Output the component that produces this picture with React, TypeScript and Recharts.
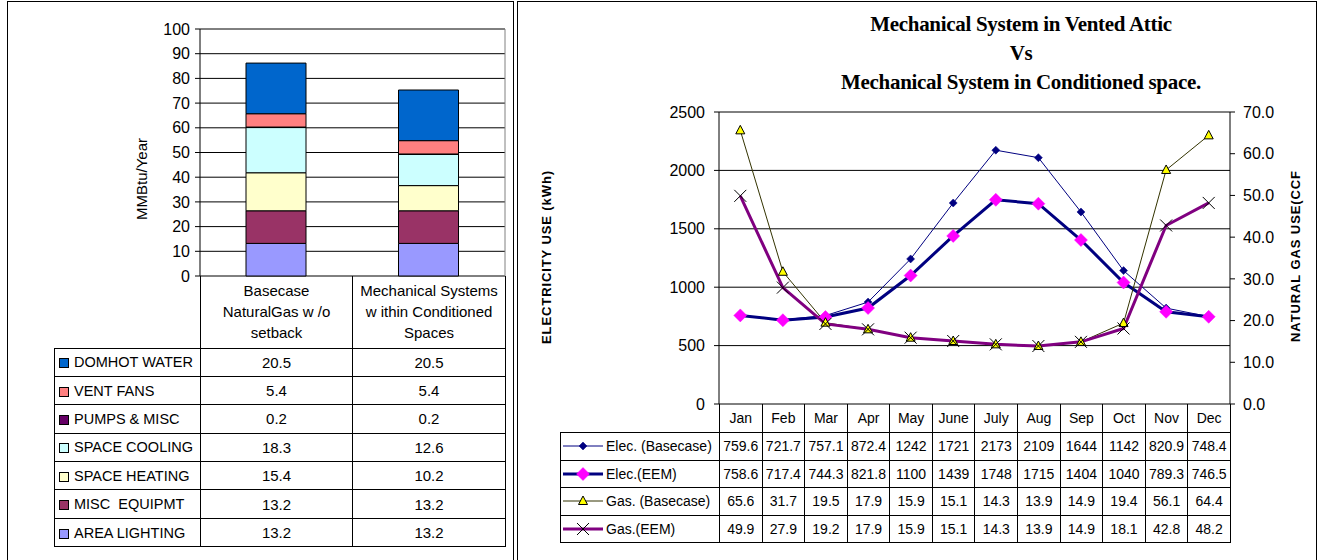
import React from "react";
import {
  BarChart,
  Bar,
  ComposedChart,
  Line,
  XAxis,
  YAxis,
  CartesianGrid,
  ReferenceLine,
} from "recharts";

// ---- annual end use (MMBtu/Year), table order top to bottom ----
const endUses = [
  "DOMHOT WATER",
  "VENT FANS",
  "PUMPS & MISC",
  "SPACE COOLING",
  "SPACE HEATING",
  "MISC  EQUIPMT",
  "AREA LIGHTING",
];
const endUseColors = ["#0066CC", "#FF8080", "#660066", "#CCFFFF", "#FFFFCC", "#993366", "#9999FF"];
const caseLabels = [
  ["Basecase", "NaturalGas w /o", "setback"],
  ["Mechanical Systems", "w ithin Conditioned", "Spaces"],
];
const basecaseUse = [20.5, 5.4, 0.2, 18.3, 15.4, 13.2, 13.2];
const conditionedUse = [20.5, 5.4, 0.2, 12.6, 10.2, 13.2, 13.2];
const useTicks = [0, 10, 20, 30, 40, 50, 60, 70, 80, 90, 100];

// ---- monthly electricity (kWh) and gas (CCF) ----
const months = ["Jan", "Feb", "Mar", "Apr", "May", "June", "July", "Aug", "Sep", "Oct", "Nov", "Dec"];
const elecBase = [759.6, 721.7, 757.1, 872.4, 1242, 1721, 2173, 2109, 1644, 1142, 820.9, 748.4];
const elecEem = [758.6, 717.4, 744.3, 821.8, 1100, 1439, 1748, 1715, 1404, 1040, 789.3, 746.5];
const gasBase = [65.6, 31.7, 19.5, 17.9, 15.9, 15.1, 14.3, 13.9, 14.9, 19.4, 56.1, 64.4];
const gasEem = [49.9, 27.9, 19.2, 17.9, 15.9, 15.1, 14.3, 13.9, 14.9, 18.1, 42.8, 48.2];
const elecTicks = [0, 500, 1000, 1500, 2000, 2500];
const gasTicks = [0, 10, 20, 30, 40, 50, 60, 70];

const sans = '"Liberation Sans", Arial, sans-serif';
const serif = '"Liberation Serif", "Times New Roman", serif';
const cases = [basecaseUse, conditionedUse];

const barData = caseLabels.map((lines, i) => {
  const row: Record<string, string | number> = { name: lines.join(" ") };
  endUses.forEach((_, j) => {
    row[`u${j}`] = cases[i][j];
  });
  return row;
});

const lineData = months.map((m, i) => ({
  month: m,
  elecBase: elecBase[i],
  elecEem: elecEem[i],
  gasBase: gasBase[i],
  gasEem: gasEem[i],
}));

// ---- markers ----
const Diamond = ({ cx, cy, r, fill }: { cx: number; cy: number; r: number; fill: string }) => (
  <polygon
    points={`${cx},${cy - r} ${cx + r},${cy} ${cx},${cy + r} ${cx - r},${cy}`}
    fill={fill}
    stroke={fill}
    strokeWidth={0.5}
  />
);

const Triangle = ({ cx, cy }: { cx: number; cy: number }) => (
  <polygon
    points={`${cx},${cy - 5} ${cx + 4.5},${cy + 3.5} ${cx - 4.5},${cy + 3.5}`}
    fill="#FFFF00"
    stroke="#000"
    strokeWidth={1}
  />
);

const Cross = ({ cx, cy }: { cx: number; cy: number }) => (
  <g stroke="#000" strokeWidth={1}>
    <line x1={cx - 6} y1={cy - 6} x2={cx + 6} y2={cy + 6} />
    <line x1={cx - 6} y1={cy + 6} x2={cx + 6} y2={cy - 6} />
  </g>
);

type Marker = (cx: number, cy: number) => React.ReactElement;

const lineSeries: {
  key: string;
  label: string;
  values: number[];
  axis: string;
  stroke: string;
  width: number;
  marker: Marker;
}[] = [
  {
    key: "elecBase",
    label: "Elec. (Basecase)",
    values: elecBase,
    axis: "elec",
    stroke: "#000080",
    width: 1,
    marker: (cx, cy) => <Diamond cx={cx} cy={cy} r={4} fill="#000080" />,
  },
  {
    key: "elecEem",
    label: "Elec.(EEM)",
    values: elecEem,
    axis: "elec",
    stroke: "#000080",
    width: 3,
    marker: (cx, cy) => <Diamond cx={cx} cy={cy} r={6.5} fill="#FF00FF" />,
  },
  {
    key: "gasBase",
    label: "Gas. (Basecase)",
    values: gasBase,
    axis: "gas",
    stroke: "#333300",
    width: 1,
    marker: (cx, cy) => <Triangle cx={cx} cy={cy} />,
  },
  {
    key: "gasEem",
    label: "Gas.(EEM)",
    values: gasEem,
    axis: "gas",
    stroke: "#800080",
    width: 3,
    marker: (cx, cy) => <Cross cx={cx} cy={cy} />,
  },
];

const cell: React.CSSProperties = {
  border: "1px solid #000",
  padding: 0,
  textAlign: "center",
  verticalAlign: "middle",
  whiteSpace: "nowrap",
  overflow: "hidden",
};

const rotated = (cx: number, cy: number, extra: React.CSSProperties): React.CSSProperties => ({
  position: "absolute",
  left: cx,
  top: cy,
  transform: "translate(-50%, -50%) rotate(-90deg)",
  whiteSpace: "nowrap",
  ...extra,
});

function EndUseChart() {
  return (
    <>
      <div style={{ position: "absolute", left: 0, top: 0 }}>
        <BarChart
          width={520}
          height={292}
          data={barData}
          margin={{ top: 29, right: 15, bottom: 16, left: 0 }}
        >
          <CartesianGrid vertical={false} stroke="#000" />
          <CartesianGrid
            horizontal={false}
            stroke="#808080"
            verticalCoordinatesGenerator={({ offset }: any) => [offset.left + offset.width]}
          />
          <XAxis dataKey="name" height={0} tick={false} tickLine={false} axisLine={{ stroke: "#000" }} />
          <YAxis
            width={200}
            domain={[0, 100]}
            ticks={useTicks}
            interval={0}
            tickSize={5}
            tickMargin={5}
            tick={{ fill: "#000", fontSize: 16, fontFamily: sans }}
            tickLine={{ stroke: "#000" }}
            axisLine={{ stroke: "#000" }}
          />
          <ReferenceLine y={100} stroke="#808080" />
          {endUses
            .map((_, j) => j)
            .reverse()
            .map((j) => (
              <Bar
                key={j}
                dataKey={`u${j}`}
                stackId="use"
                fill={endUseColors[j]}
                stroke="#000"
                strokeWidth={1}
                barSize={60}
                isAnimationActive={false}
              />
            ))}
        </BarChart>
      </div>
      <div style={rotated(141, 179, { fontSize: 15, fontFamily: sans })}>MMBtu/Year</div>
      <table
        style={{
          position: "absolute",
          left: 54,
          top: 276,
          borderCollapse: "collapse",
          tableLayout: "fixed",
          width: 451,
          fontFamily: sans,
          fontSize: 15,
        }}
      >
        <colgroup>
          <col style={{ width: 146 }} />
          <col style={{ width: 152 }} />
          <col style={{ width: 153 }} />
        </colgroup>
        <tbody>
          <tr style={{ height: 72 }}>
            <td style={{ ...cell, border: "none" }} />
            {caseLabels.map((lines) => (
              <td key={lines[0]} style={{ ...cell, borderTop: "none", lineHeight: "21px" }}>
                {lines.map((l) => (
                  <div key={l}>{l}</div>
                ))}
              </td>
            ))}
          </tr>
          {endUses.map((u, j) => (
            <tr key={u} style={{ height: 28.4 }}>
              <td style={{ ...cell, textAlign: "left", fontSize: 14.5 }}>
                <span
                  style={{
                    display: "inline-block",
                    width: 8,
                    height: 8,
                    background: endUseColors[j],
                    border: "1px solid #000",
                    margin: "0 5px 0 4px",
                    verticalAlign: "-1px",
                  }}
                />
                <span style={{ whiteSpace: "pre" }}>{u}</span>
              </td>
              {cases.map((vals, i) => (
                <td key={i} style={cell}>
                  {vals[j]}
                </td>
              ))}
            </tr>
          ))}
        </tbody>
      </table>
    </>
  );
}

function MonthlyChart() {
  return (
    <>
      <div
        style={{
          position: "absolute",
          left: 1021,
          top: 10,
          transform: "translateX(-50%)",
          fontFamily: serif,
          fontWeight: "bold",
          fontSize: 21,
          letterSpacing: -0.3,
          lineHeight: "29px",
          textAlign: "center",
          whiteSpace: "nowrap",
        }}
      >
        <div>Mechanical System in Vented Attic</div>
        <div>Vs</div>
        <div>Mechanical System in Conditioned space.</div>
      </div>
      <div style={{ position: "absolute", left: 520, top: 0 }}>
        <ComposedChart
          width={799}
          height={420}
          data={lineData}
          margin={{ top: 112, right: 0, bottom: 16, left: 0 }}
        >
          <CartesianGrid yAxisId="elec" vertical={false} stroke="#000" />
          <XAxis
            dataKey="month"
            scale="band"
            height={0}
            tick={false}
            tickLine={false}
            axisLine={{ stroke: "#000" }}
          />
          <YAxis
            yAxisId="elec"
            width={199}
            domain={[0, 2500]}
            ticks={elecTicks}
            interval={0}
            tickSize={5}
            tickMargin={9}
            tick={{ fill: "#000", fontSize: 16, fontFamily: sans }}
            tickLine={{ stroke: "#000" }}
            axisLine={{ stroke: "#000" }}
          />
          <YAxis
            yAxisId="gas"
            orientation="right"
            width={89}
            domain={[0, 70]}
            ticks={gasTicks}
            interval={0}
            tickSize={5}
            tickMargin={8}
            tickFormatter={(v: number) => v.toFixed(1)}
            tick={{ fill: "#000", fontSize: 16, fontFamily: sans }}
            tickLine={{ stroke: "#000" }}
            axisLine={{ stroke: "#000" }}
          />
          <ReferenceLine yAxisId="elec" y={2500} stroke="#808080" />
          {lineSeries.map((s) => (
            <Line
              key={s.key}
              yAxisId={s.axis}
              dataKey={s.key}
              type="linear"
              stroke={s.stroke}
              strokeWidth={s.width}
              dot={(p: any) => <g key={`${s.key}-${p.index}`}>{s.marker(p.cx, p.cy)}</g>}
              activeDot={false}
              isAnimationActive={false}
            />
          ))}
        </ComposedChart>
      </div>
      <div style={rotated(546, 257, { fontSize: 13, fontWeight: "bold", letterSpacing: 0.9, fontFamily: sans })}>
        ELECTRICITY USE (kWh)
      </div>
      <div style={rotated(1295, 256, { fontSize: 13, fontWeight: "bold", letterSpacing: 0.9, fontFamily: sans })}>
        NATURAL GAS USE(CCF
      </div>
      <table
        style={{
          position: "absolute",
          left: 560,
          top: 404,
          borderCollapse: "collapse",
          tableLayout: "fixed",
          width: 670,
          fontFamily: sans,
          fontSize: 14,
        }}
      >
        <colgroup>
          <col style={{ width: 159 }} />
          {months.map((m) => (
            <col key={m} style={{ width: 511 / 12 }} />
          ))}
        </colgroup>
        <tbody>
          <tr style={{ height: 28.5 }}>
            <td style={{ ...cell, border: "none" }} />
            {months.map((m) => (
              <td key={m} style={{ ...cell, borderTop: "none" }}>
                {m}
              </td>
            ))}
          </tr>
          {lineSeries.map((s) => (
            <tr key={s.key} style={{ height: 27.6 }}>
              <td style={{ ...cell, textAlign: "left" }}>
                <svg width={42} height={14} style={{ verticalAlign: "-2px", marginLeft: 1, marginRight: 2 }}>
                  <line x1={1} y1={7} x2={41} y2={7} stroke={s.stroke} strokeWidth={s.width} />
                  {s.marker(21, 7)}
                </svg>
                {s.label}
              </td>
              {s.values.map((v, i) => (
                <td key={i} style={cell}>
                  {v}
                </td>
              ))}
            </tr>
          ))}
        </tbody>
      </table>
    </>
  );
}

export default function App() {
  return (
    <div
      style={{
        position: "absolute",
        left: 0,
        top: 0,
        width: 1319,
        height: 560,
        overflow: "hidden",
        background: "#fff",
        fontFamily: sans,
        color: "#000",
      }}
    >
      <div
        style={{
          position: "absolute",
          left: 7,
          top: 1,
          width: 507,
          height: 600,
          border: "1px solid #000",
          boxSizing: "border-box",
        }}
      />
      <div
        style={{
          position: "absolute",
          left: 517,
          top: 1,
          width: 800,
          height: 600,
          border: "1px solid #000",
          boxSizing: "border-box",
        }}
      />
      <EndUseChart />
      <MonthlyChart />
    </div>
  );
}
